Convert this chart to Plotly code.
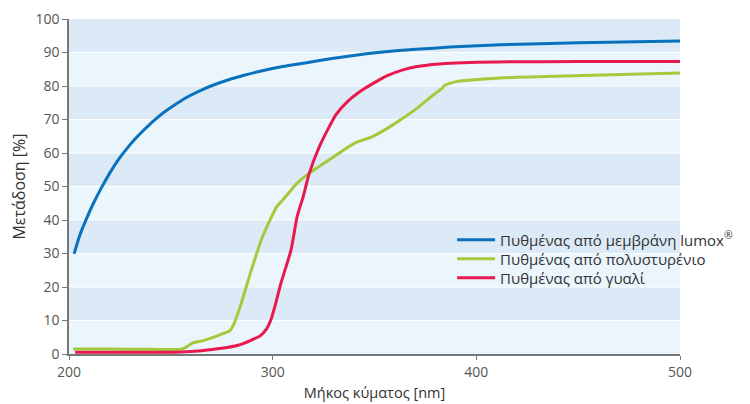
import plotly.graph_objects as go

# Data
lumox_x = [202.5, 204, 206, 209.3, 212, 215.9, 220, 224, 228, 232.2, 237, 242.1, 247, 253.5, 259, 265, 271, 278, 286, 294.4, 305, 317.3, 330, 346, 362, 379, 395, 412, 450, 500]
lumox_y = [29.9, 33.0, 36.6, 41.4, 45.0, 49.6, 54.0, 57.8, 61.0, 64.0, 67.0, 69.9, 72.3, 75.0, 77.0, 78.8, 80.3, 81.8, 83.2, 84.5, 85.8, 87.0, 88.3, 89.6, 90.6, 91.3, 91.9, 92.3, 92.9, 93.4]

ps_x = [202, 220, 240, 255, 258, 261, 266, 274, 279, 281, 284, 289, 295, 302, 305, 312, 318, 330, 340, 349, 359, 371, 379, 383, 384.5, 390, 412, 452, 500]
ps_y = [1.5, 1.5, 1.4, 1.4, 2.2, 3.4, 4.0, 5.7, 7.0, 9.0, 14.0, 24.0, 35.0, 44.0, 46.0, 51.0, 54.0, 58.9, 62.9, 64.9, 68.4, 73.4, 77.4, 79.2, 80.2, 81.3, 82.4, 83.1, 83.9]

glass_x = [203, 220, 240, 255, 265, 275, 283, 289, 294, 297, 299, 301, 304, 309, 312, 315, 318, 323, 331, 337, 344, 350, 356, 364, 371, 380, 390, 410, 450, 500]
glass_y = [0.5, 0.5, 0.5, 0.6, 1.0, 1.7, 2.6, 4.0, 5.5, 7.5, 10, 14, 21, 31, 41, 47, 54, 62, 71.4, 75.5, 78.8, 81.0, 83.0, 84.8, 85.8, 86.5, 86.9, 87.2, 87.3, 87.3]

names = ["Πυθμένας από μεμβράνη lumox<sup>®</sup>", "Πυθμένας από πολυστυρένιο", "Πυθμένας από γυαλί"]
colors = ["#0a72bd", "#a6c93c", "#e8194f"]

x_ticks = [200, 300, 400, 500]
y_ticks = [0, 10, 20, 30, 40, 50, 60, 70, 80, 90, 100]

legend_ids = ["legend", "legend2", "legend3"]
legend_y = [0.340, 0.2836, 0.2269]

fig = go.Figure()
for xs, ys, n, c, lg in [(lumox_x, lumox_y, names[0], colors[0], legend_ids[0]),
                         (ps_x, ps_y, names[1], colors[1], legend_ids[1]),
                         (glass_x, glass_y, names[2], colors[2], legend_ids[2])]:
    fig.add_trace(go.Scatter(x=xs, y=ys, mode="lines", name=n, legend=lg,
                             line=dict(color=c, width=3, shape="spline", smoothing=0.5)))

shapes = []
for lo in [10, 30, 50, 70, 90]:
    shapes.append(dict(type="rect", xref="paper", yref="y", x0=0, x1=1, y0=lo, y1=lo + 10,
                       fillcolor="#dbeaf6", line=dict(width=0), layer="below"))
for yl in [10, 20, 30, 40, 50, 60, 70, 80, 90]:
    shapes.append(dict(type="line", xref="paper", yref="y", x0=0, x1=1, y0=yl, y1=yl,
                       line=dict(color="white", width=1), layer="below"))

def leg(y):
    return dict(x=0.627, y=y, xanchor="left", yanchor="middle", itemwidth=38,
                bgcolor="rgba(0,0,0,0)", font=dict(size=15, color="#333333"))

fig.update_layout(
    width=742, height=396,
    margin=dict(l=61, r=70, t=11, b=50, autoexpand=False),
    paper_bgcolor="white",
    plot_bgcolor="#eaf5fc",
    shapes=shapes,
    font=dict(family="Open Sans", color="#555555", size=13),
    showlegend=True,
    legend=leg(legend_y[0]),
    legend2=leg(legend_y[1]),
    legend3=leg(legend_y[2]),
    xaxis=dict(range=[200, 500], tickvals=x_ticks, ticks="outside", ticklen=4,
               tickcolor="#777777", showline=True, linecolor="#777777", linewidth=1.5,
               showgrid=False, zeroline=False, automargin=False,
               tickfont=dict(size=14, color="#555555"),
               title=dict(text="Μήκος κύματος [nm]", font=dict(size=14.5, color="#333333"), standoff=8)),
    yaxis=dict(range=[0, 100], tickvals=y_ticks, ticks="outside", ticklen=5,
               tickcolor="#777777", showline=True, linecolor="#777777", linewidth=1.5,
               showgrid=False, zeroline=False, automargin=False,
               tickfont=dict(size=14, color="#555555"),
               title=dict(text="Μετάδοση [%]", font=dict(size=16, color="#333333"), standoff=10)),
)

fig.write_html("out.html")
